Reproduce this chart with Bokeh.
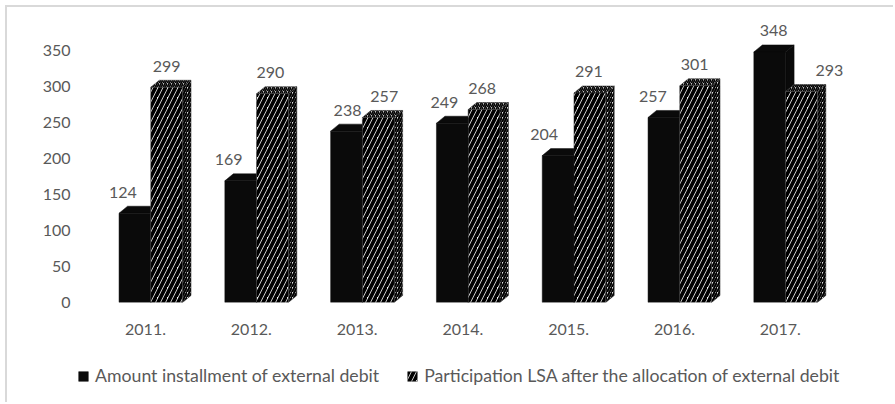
from bokeh.plotting import figure
from bokeh.layouts import column
from bokeh.models import Range1d, FixedTicker, Legend, LegendItem
from bokeh.embed import file_html
from bokeh.resources import INLINE
from bokeh.core.properties import value

# ---- data ----
years = ["2011.", "2012.", "2013.", "2014.", "2015.", "2016.", "2017."]
installment = [124, 169, 238, 249, 204, 257, 348]
participation = [299, 290, 257, 268, 291, 301, 293]
y_ticks = [0, 50, 100, 150, 200, 250, 300, 350]
series_names = ["Amount installment of external debit",
                "Participation LSA after the allocation of external debit"]

# ---- style / geometry ----
FONT = "Lato"
TXT = "#595959"
BLACK = "#0a0a0a"
PX_X = 105.8           # pixels per category
PX_Y = 0.72            # pixels per value unit
DX = 8.5 / PX_X        # depth offset (x) in data units
DY = 7.0 / PX_Y        # depth offset (y) in data units
BLK = (-0.25, 0.05)    # black bar front face, relative to category
HAT = (0.05, 0.35)     # hatched bar front face
lab_dx_blk = [-12, -12, 1, -8, -14, -11, 4]
lab_dx_hat = [0, -2, 6, -2, -1, -1, 28]

W, H, HL = 886, 345, 50
CX0 = 138              # screen x of first category
frame_left, frame_right, frame_bottom, frame_top = 69, 870, 295, 8
x0 = -(CX0 - frame_left) / PX_X
x1 = (frame_right - CX0) / PX_X
y1 = (frame_bottom - frame_top) / PX_Y

HATCH_FRONT = dict(fill_color="white", line_color="#222222", line_width=0.5,
                   hatch_pattern="/", hatch_color="black", hatch_scale=10, hatch_weight=3.8)
BLACK_FRONT = dict(fill_color=BLACK, line_color=BLACK, line_width=0.5)

p = figure(width=W, height=H, output_backend="svg", toolbar_location=None,
           x_range=Range1d(x0, x1), y_range=Range1d(0, y1),
           min_border_left=frame_left, min_border_right=W - frame_right,
           min_border_top=frame_top, min_border_bottom=H - frame_bottom,
           tools="")
p.outline_line_color = None
p.xgrid.visible = False
p.ygrid.visible = False
p.background_fill_color = "white"
p.border_fill_color = "white"

idx = list(range(len(years)))


def geom(vals, face):
    lo, hi = face
    L = [i + lo for i in idx]
    R = [i + hi for i in idx]
    top_xs = [[l, r, r + DX, l + DX] for l, r in zip(L, R)]
    top_ys = [[v, v, v + DY, v + DY] for v in vals]
    side_xs = [[r, r + DX, r + DX, r] for r in R]
    side_ys = [[0, DY, v + DY, v] for v in vals]
    return L, R, top_xs, top_ys, side_xs, side_ys


# black bars
L, R, txs, tys, sxs, sys_ = geom(installment, BLK)
p.patches(sxs, sys_, **BLACK_FRONT)
p.patches(txs, tys, **BLACK_FRONT)
p.quad(left=L, right=R, bottom=0, top=installment, **BLACK_FRONT)

# hatched bars
L2, R2, txs2, tys2, sxs2, sys2 = geom(participation, HAT)
p.patches(sxs2, sys2, fill_color="#e0e0e0", line_color="#333333", line_width=0.5,
          hatch_pattern="/", hatch_color="black", hatch_scale=5, hatch_weight=2)
p.patches(txs2, tys2, fill_color="#bdbdbd", line_color="#333333", line_width=0.5,
          hatch_pattern="/", hatch_color="black", hatch_scale=4, hatch_weight=1.6)
p.quad(left=L2, right=R2, bottom=0, top=participation, **HATCH_FRONT)

# data labels
cb = sum(BLK) / 2
ch = sum(HAT) / 2
p.text(x=[i + cb for i in idx], y=installment, text=[str(v) for v in installment],
       x_offset=lab_dx_blk, y_offset=-21, text_align="center", text_baseline="middle",
       text_font=value(FONT), text_font_size="16px", text_color=TXT)
p.text(x=[i + ch for i in idx], y=participation, text=[str(v) for v in participation],
       x_offset=lab_dx_hat, y_offset=-21, text_align="center", text_baseline="middle",
       text_font=value(FONT), text_font_size="16px", text_color=TXT)

# axes
p.yaxis.ticker = FixedTicker(ticks=y_ticks)
p.xaxis.ticker = FixedTicker(ticks=idx)
p.xaxis.major_label_overrides = {i: years[i] for i in idx}
for ax in (p.xaxis, p.yaxis):
    ax.axis_line_color = None
    ax.major_tick_line_color = None
    ax.minor_tick_line_color = None
    ax.major_label_text_font = FONT
    ax.major_label_text_font_size = "16px"
    ax.major_label_text_color = TXT
p.yaxis.major_label_standoff = 0
p.xaxis.major_label_standoff = 15

# ---- legend strip ----
lf = figure(width=W, height=HL, output_backend="svg", toolbar_location=None,
            x_range=Range1d(0, W), y_range=Range1d(0, HL), tools="",
            x_axis_type=None, y_axis_type=None,
            min_border=0, min_border_left=frame_left, min_border_right=W - frame_right,
            min_border_top=0, min_border_bottom=0)
lf.grid.visible = False
lf.outline_line_color = None
lf.background_fill_color = "white"
lf.border_fill_color = "white"
r1 = lf.quad(left=[-20], right=[-10], bottom=[-20], top=[-10], **BLACK_FRONT)
r2 = lf.quad(left=[-20], right=[-10], bottom=[-20], top=[-10], **HATCH_FRONT)
legend = Legend(items=[LegendItem(label=series_names[0], renderers=[r1]),
                       LegendItem(label=series_names[1], renderers=[r2])],
                location=(1, 16), orientation="horizontal",
                border_line_color=None, background_fill_alpha=0,
                padding=0, margin=0, spacing=27, label_standoff=6,
                glyph_width=12, glyph_height=12,
                label_text_font=FONT, label_text_font_size="17.7px",
                label_text_color=TXT)
lf.add_layout(legend)

layout = column(p, lf, spacing=0,
                styles={"margin-left": "5px", "margin-top": "5px",
                        "border-left": "2px solid #d9d9d9",
                        "border-top": "2px solid #d9d9d9"})

open("out.html", "w").write(file_html(layout, INLINE))
